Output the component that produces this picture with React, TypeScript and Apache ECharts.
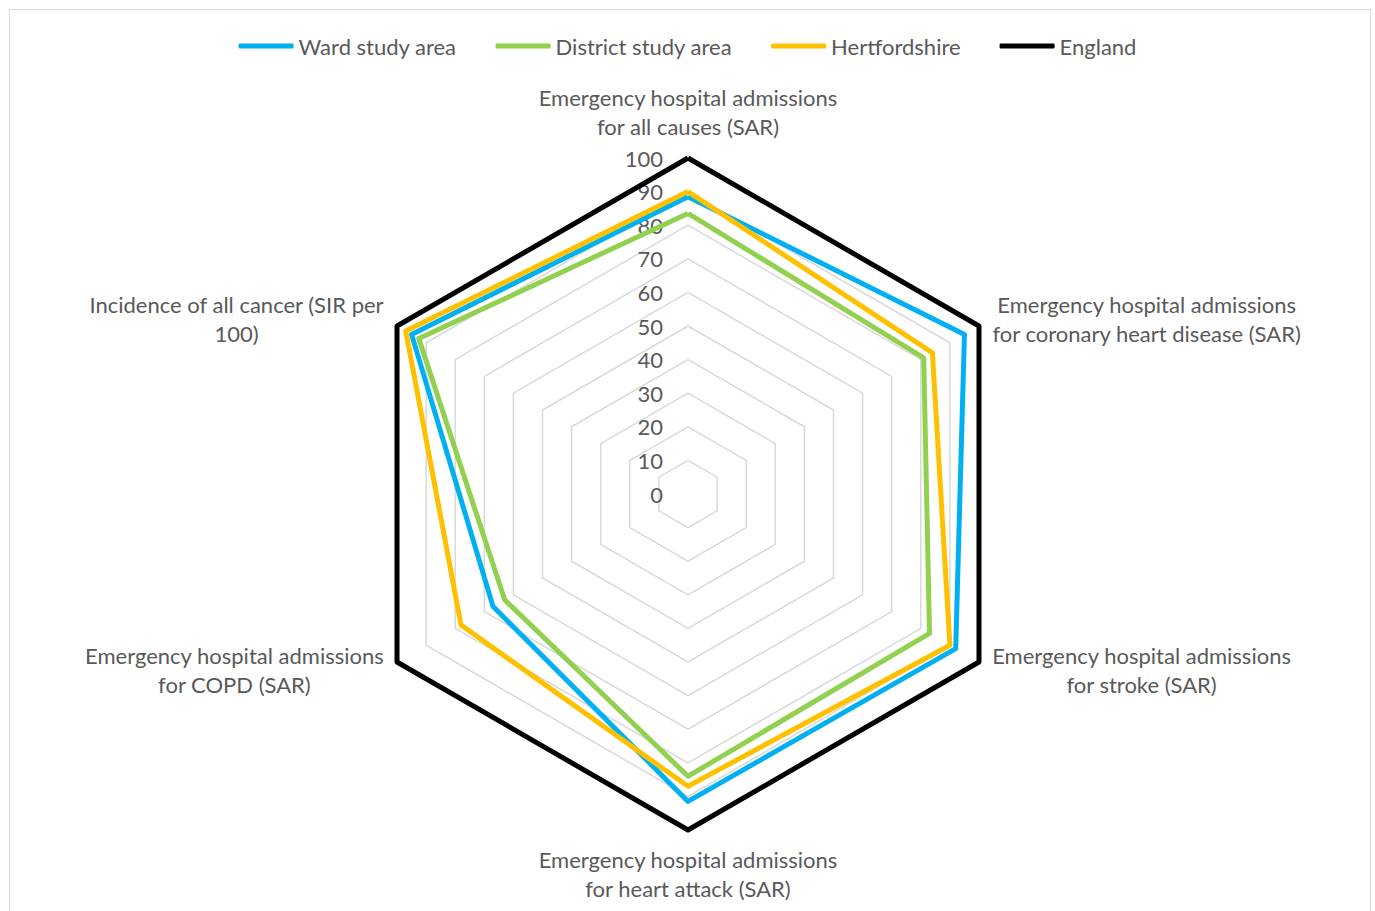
import React, { useEffect, useRef } from "react";
import * as echarts from "echarts";

// Indicator names, listed clockwise from the top
const categories = [
  "Emergency hospital admissions\nfor all causes (SAR)",
  "Emergency hospital admissions\nfor coronary heart disease (SAR)",
  "Emergency hospital admissions\nfor stroke (SAR)",
  "Emergency hospital admissions\nfor heart attack (SAR)",
  "Emergency hospital admissions\nfor COPD (SAR)",
  "Incidence of all cancer (SIR per\n100)",
];

const seriesNames = ["Ward study area", "District study area", "Hertfordshire", "England"];

// Values per indicator, same clockwise order as categories
const wardValues = [88.5, 95, 92, 91.5, 67, 95];
const districtValues = [83.5, 81, 83, 84, 63, 92.5];
const hertsValues = [90, 84, 90, 87, 78, 97];
const englandValues = [100, 100, 100, 100, 100, 100];

// Radial scale: 0 to 100 in steps of 10
const axisMin = 0;
const axisMax = 100;
const axisStep = 10;

const seriesColors = ["#00B0F0", "#92D050", "#FFC000", "#000000"];

const FONT = "Lato, 'Open Sans', sans-serif";
const TEXT_COLOR = "#595959";
const FONT_SIZE = 22;

// ECharts lays radar indicators out counter-clockwise; keep the first one on top
// and reverse the rest so the chart reads clockwise.
function toRadarOrder<T>(arr: T[]): T[] {
  return [arr[0], ...arr.slice(1).reverse()];
}

export default function App() {
  const ref = useRef<HTMLDivElement>(null);

  useEffect(() => {
    if (!ref.current) return;
    const chart = echarts.init(ref.current, undefined, { renderer: "svg" });

    const ordered = toRadarOrder(categories);
    const valueSets = [wardValues, districtValues, hertsValues, englandValues];

    const indicator = ordered.map((name, i) => {
      const item: any = { name, min: axisMin, max: axisMax };
      if (i === 0) {
        item.nameGap = 17;
        item.axisLabel = {
          show: true,
          color: TEXT_COLOR,
          fontSize: FONT_SIZE,
          fontFamily: FONT,
          margin: 25,
        };
      }
      return item;
    });

    chart.setOption({
      animation: false,
      backgroundColor: "#ffffff",
      legend: {
        top: 30,
        left: "center",
        icon: "roundRect",
        itemWidth: 55,
        itemHeight: 5,
        itemGap: 39,
        data: seriesNames,
        textStyle: { color: TEXT_COLOR, fontSize: FONT_SIZE, fontFamily: FONT },
      },
      radar: {
        center: [688, 494],
        radius: 336,
        startAngle: 90,
        shape: "polygon",
        splitNumber: (axisMax - axisMin) / axisStep,
        nameGap: 15,
        indicator,
        axisName: {
          color: TEXT_COLOR,
          fontSize: FONT_SIZE,
          fontFamily: FONT,
          lineHeight: 29,
          formatter: (name: string) =>
            name
              .split("\n")
              .map((line) => `{c|${line}}`)
              .join("\n"),
          rich: {
            c: {
              align: "center",
              color: TEXT_COLOR,
              fontSize: FONT_SIZE,
              fontFamily: FONT,
              lineHeight: 29,
            },
          },
        },
        splitLine: { lineStyle: { color: "#d9d9d9", width: 1.5 } },
        splitArea: { show: false },
        axisLine: { show: false },
        axisTick: { show: false },
        axisLabel: { show: false },
      },
      series: [
        {
          type: "radar",
          symbol: "none",
          data: seriesNames.map((name, i) => ({
            name,
            value: toRadarOrder(valueSets[i]),
            lineStyle: { color: seriesColors[i], width: 5 },
            itemStyle: { color: seriesColors[i] },
          })),
        },
      ],
    });

    return () => chart.dispose();
  }, []);

  return (
    <div
      style={{
        position: "absolute",
        left: 0,
        top: 0,
        width: 1375,
        height: 911,
        overflow: "hidden",
        background: "#ffffff",
      }}
    >
      <div ref={ref} style={{ position: "absolute", left: 0, top: 0, width: 1375, height: 911 }} />
      <div
        style={{
          position: "absolute",
          left: 9,
          top: 9,
          width: 1360,
          height: 1000,
          border: "1px solid #d9d9d9",
          pointerEvents: "none",
        }}
      />
    </div>
  );
}
